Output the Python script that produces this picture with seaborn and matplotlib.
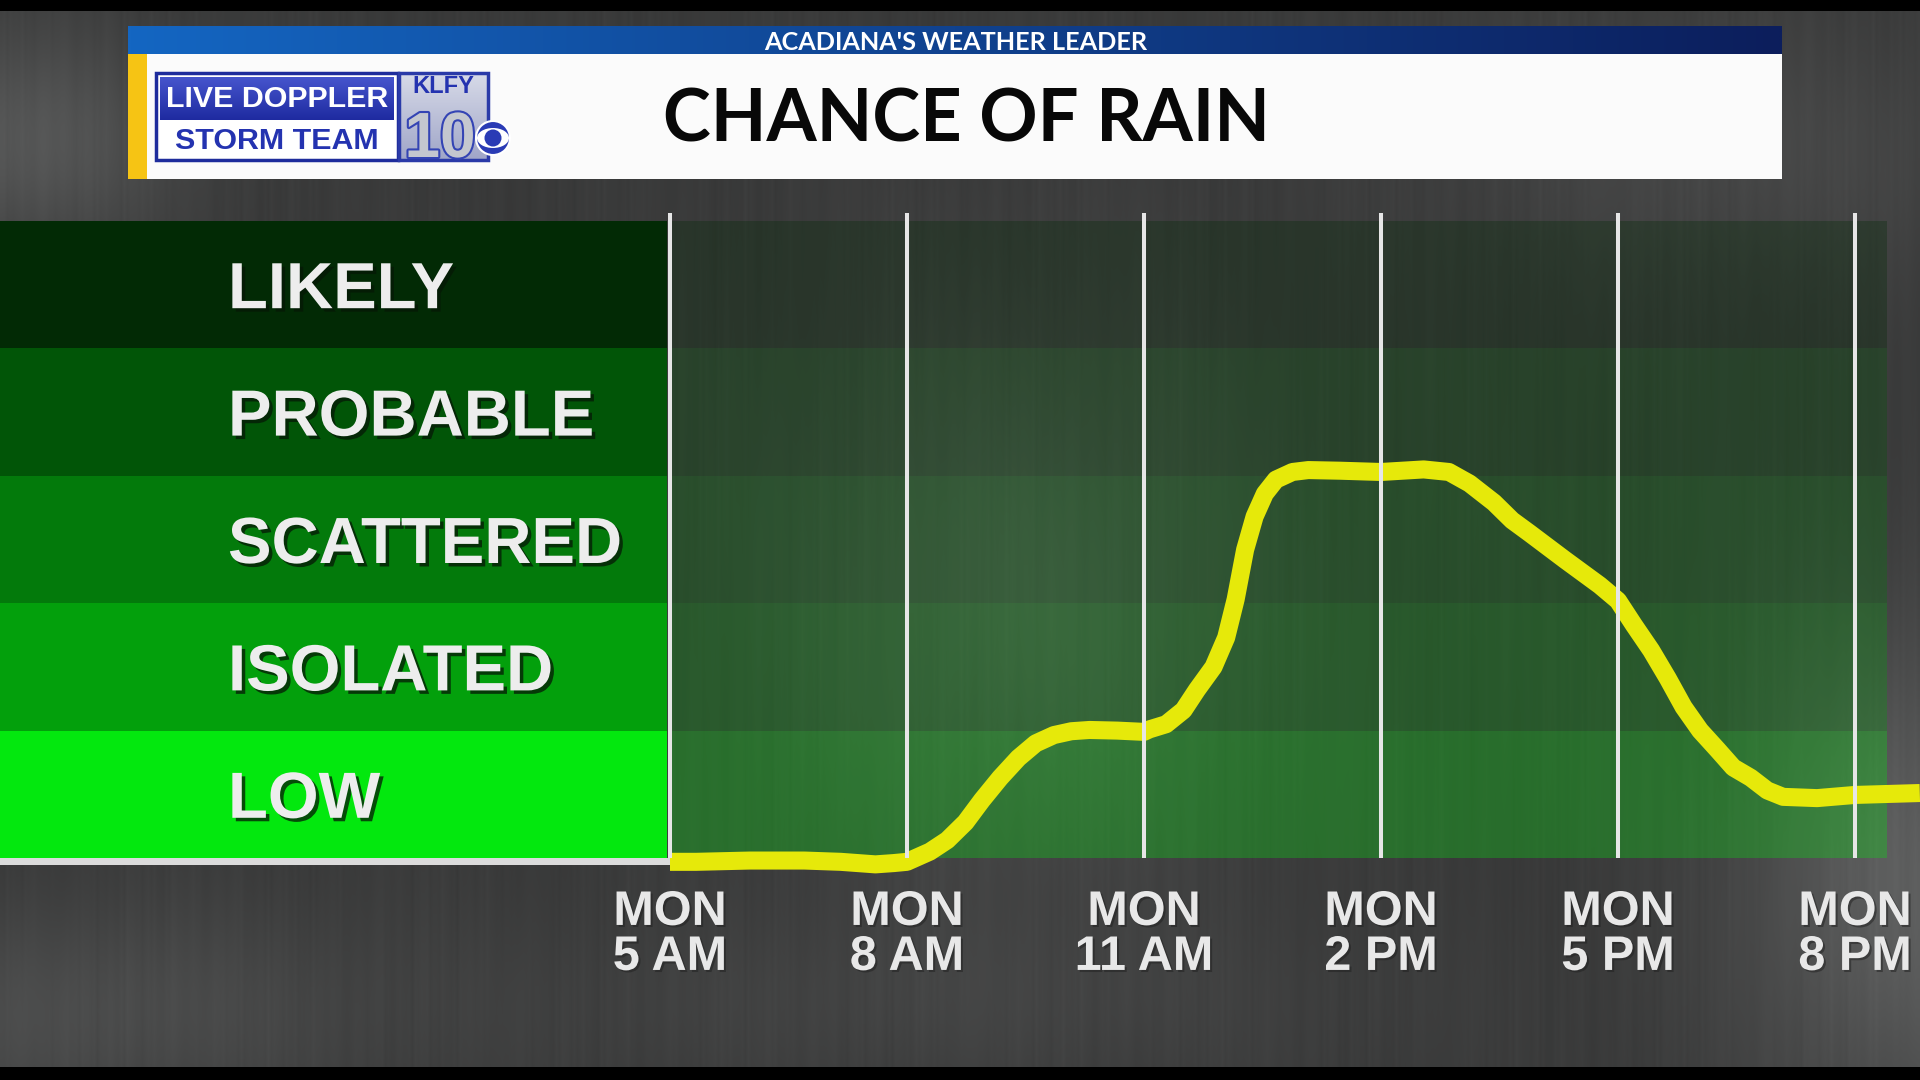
import numpy as np
import matplotlib
matplotlib.use("Agg")
import matplotlib.pyplot as plt
import matplotlib.patheffects as pe
import matplotlib.font_manager as fm
from matplotlib.patches import Rectangle, Circle, Ellipse
import seaborn as sns

# ---------------- data ----------------
levels = ["LOW", "ISOLATED", "SCATTERED", "PROBABLE", "LIKELY"]
level_colors = ["#03e80e", "#03a00c", "#037a0b", "#015507", "#022a05"]
tick_hours = [5, 8, 11, 14, 17, 20]
tick_labels = ["MON\n5 AM", "MON\n8 AM", "MON\n11 AM", "MON\n2 PM", "MON\n5 PM", "MON\n8 PM"]
curve_hours = [5.0, 5.33, 6.01, 6.70, 7.16, 7.60, 7.83, 8.0, 8.29, 8.51, 8.74, 8.95,
               9.18, 9.41, 9.63, 9.86, 10.08, 10.31, 10.66, 11.0, 11.07, 11.28, 11.5,
               11.67, 11.88, 12.04, 12.16, 12.28, 12.40, 12.53, 12.67, 12.88, 13.08,
               13.48, 14.0, 14.54, 14.86, 15.12, 15.43, 15.66, 15.88, 16.33, 16.77,
               17.0, 17.2, 17.42, 17.63, 17.83, 18.04, 18.26, 18.46, 18.68, 18.89,
               19.09, 19.52, 20.0, 20.82]
curve_level = [-0.03, -0.03, -0.02, -0.02, -0.03, -0.05, -0.04, -0.03, 0.05, 0.14, 0.28, 0.455,
               0.63, 0.785, 0.90, 0.965, 0.995, 1.005, 1.0, 0.99, 1.01, 1.05, 1.16,
               1.32, 1.50, 1.73, 2.03, 2.42, 2.68, 2.86, 2.97, 3.03, 3.045,
               3.04, 3.03, 3.05, 3.03, 2.94, 2.79, 2.65, 2.55, 2.34, 2.14,
               2.02, 1.83, 1.63, 1.41, 1.185, 1.0, 0.85, 0.71, 0.63, 0.53,
               0.48, 0.47, 0.495, 0.51]
title_text = "CHANCE OF RAIN"
banner_text = "ACADIANA'S WEATHER LEADER"
logo_top = "LIVE DOPPLER"
logo_bottom = "STORM TEAM"
station = "KLFY"
channel = "10"

# ---------------- setup ----------------
sns.set_theme(style="white")
plt.rcParams["font.family"] = ["Liberation Sans", "DejaVu Sans"]
avail = {f.name for f in fm.fontManager.ttflist}
NARROW = "Liberation Sans Narrow" if "Liberation Sans Narrow" in avail else None
nscale = 1.0 if NARROW else 0.84
NARROW = NARROW or "Liberation Sans"
LATO = "Lato" if "Lato" in avail else "DejaVu Sans"

W, H = 1920, 1080
fig = plt.figure(figsize=(19.2, 10.8), dpi=100)

# canvas axes in pixel coordinates
cv = fig.add_axes([0, 0, 1, 1])
cv.set_xlim(0, W)
cv.set_ylim(H, 0)
cv.axis("off")

yy, xx = np.mgrid[0:H:3, 0:W:3].astype(float)


def blob(cx, cy, sx, sy, a):
    return a * np.exp(-(((xx - cx) / sx) ** 2 + ((yy - cy) / sy) ** 2))


bg = (0.225 + blob(20, 140, 150, 110, 0.11) + blob(1910, 880, 170, 260, 0.14)
      + blob(60, 1010, 300, 110, 0.07) + blob(1020, 600, 220, 280, 0.09)
      + blob(1750, 150, 300, 130, 0.05) + blob(900, 1000, 500, 90, 0.03))
streak = (0.008 * np.sin(xx * 0.83) * np.sin(xx * 0.131 + 1.3) * np.cos(yy * 0.004 + xx * 0.02)
          + 0.006 * np.sin(xx * 2.17 + 0.4) * np.cos(yy * 0.011 + xx * 0.05)
          + 0.005 * np.sin(xx * 0.29 + 2.0) * np.sin(yy * 0.006 + xx * 0.013))
bg = bg + streak
rgb = np.dstack([bg, bg * 1.01, bg * 1.01]).clip(0, 1)
cv.imshow(rgb, extent=(0, W, H, 0), interpolation="bilinear", aspect="auto", zorder=0)

cv.add_patch(Rectangle((0, 0), W, 11, fc="black", ec="none", zorder=1))
cv.add_patch(Rectangle((0, 1067), W, 13, fc="black", ec="none", zorder=1))

# header banner
c1 = np.array([20, 102, 194]) / 255
c2 = np.array([12, 30, 92]) / 255
t = np.linspace(0, 1, 256)[None, :, None]
grad = c1 * (1 - t) + c2 * t
cv.imshow(grad, extent=(128, 1782, 54, 26), aspect="auto", interpolation="bilinear", zorder=2)
cv.add_patch(Rectangle((128, 54), 1654, 125, fc="#fbfbfb", ec="none", zorder=2))
cv.add_patch(Rectangle((128, 54), 19, 125, fc="#f6c414", ec="none", zorder=3))
cv.text(956, 41, banner_text, ha="center", va="center_baseline", color="white",
        fontsize=18.2, fontfamily=LATO, fontweight="bold", zorder=4)
cv.text(663, 142, title_text, ha="left", va="baseline", color="#080808",
        fontsize=52, fontfamily=LATO, fontweight="bold", zorder=4)

# logo
cv.add_patch(Rectangle((156, 73), 242, 87, fc="white", ec="#1e2c9c", lw=2.5, zorder=3))
lg = np.linspace(0, 1, 64)[:, None, None]
blue_grad = (np.array([70, 85, 205]) / 255) * (1 - lg) + (np.array([30, 42, 160]) / 255) * lg
cv.imshow(blue_grad, extent=(160, 394, 120, 77), aspect="auto", interpolation="bilinear", zorder=4)
cv.text(277, 99, logo_top, ha="center", va="center", color="white", fontsize=26 * nscale,
        fontfamily=NARROW, fontweight="bold", zorder=5)
cv.text(277, 141, logo_bottom, ha="center", va="center", color="#2433b0", fontsize=26 * nscale,
        fontfamily=NARROW, fontweight="bold", zorder=5)
kg = np.linspace(0, 1, 64)[:, None, None]
k_grad = (np.array([215, 218, 232]) / 255) * (1 - kg) + (np.array([160, 166, 200]) / 255) * kg
cv.imshow(k_grad, extent=(399, 488, 160, 73), aspect="auto", interpolation="bilinear", zorder=3)
cv.add_patch(Rectangle((399, 73), 89, 87, fc="none", ec="#2a3aa8", lw=2.5, zorder=4))
cv.text(443, 93, station, ha="center", va="baseline", color="#2433b0", fontsize=17,
        fontfamily="Liberation Sans", fontweight="bold", zorder=5)
cv.text(440, 157, channel, ha="center", va="baseline", color="#c4c7cf", fontsize=46,
        fontfamily="Liberation Sans", fontweight="bold", zorder=5,
        path_effects=[pe.withStroke(linewidth=3, foreground="#3444b4")])
cv.add_patch(Circle((493, 138), 17, fc="#2a3bb5", ec="white", lw=1.5, zorder=6))
cv.add_patch(Ellipse((493, 138), 32, 20, fc="white", ec="none", zorder=7))
cv.add_patch(Circle((493, 138), 8.5, fc="#2a3bb5", ec="none", zorder=8))

# white baseline under left panel
cv.add_patch(Rectangle((0, 858), 670, 7, fc="#dcdcdc", ec="none", zorder=2))

# ---------------- left panel (category key) ----------------
ax_l = fig.add_axes([0, (H - 858) / H, 667 / W, 637 / H])
ax_l.barh(np.arange(len(levels)) + 0.5, 1, height=1.0, color=level_colors, lw=0)
ax_l.set_xlim(0, 1)
ax_l.set_ylim(0, 5)
ax_l.axis("off")

# ---------------- main chart ----------------
ax = fig.add_axes([670 / W, (H - 858) / H, (W - 670) / W, 637 / H])
ax.patch.set_alpha(0)
x_right = 5 + (W - 670) / 79.0
ax.set_xlim(5, x_right)
ax.set_ylim(0, 5)
for i, c in enumerate(level_colors):
    ax.axhspan(i, i + 1, xmin=0, xmax=(1887 - 670) / (W - 670), color=c, alpha=0.3, lw=0, zorder=1)

sns.lineplot(x=curve_hours, y=curve_level, ax=ax, color="#e6e90a", lw=13, sort=False,
             estimator=None, zorder=3)
line = ax.lines[-1]
line.set_clip_on(False)
line.set_solid_joinstyle("round")
line.set_solid_capstyle("butt")

ax.vlines(tick_hours, 0, 5 + 8 / 127.4, colors="#e6e6e6", lw=2.9, zorder=4, clip_on=False)

ax.set_xticks(tick_hours)
ax.set_xticklabels(tick_labels, fontsize=35, fontweight="bold", color="#e8e8e8",
                   linespacing=1.0, fontfamily="Liberation Sans")
ax.tick_params(axis="x", length=0, pad=23)
ax.set_yticks(np.arange(len(levels)) + 0.5)
ax.set_yticklabels(levels, fontsize=47, fontweight="bold", color="#ededed", ha="left",
                   fontfamily="Liberation Sans")
ax.tick_params(axis="y", length=0, pad=(670 - 228) * 0.72)
for lbl in ax.get_yticklabels():
    lbl.set_path_effects([pe.SimplePatchShadow(offset=(2.5, -2.5), shadow_rgbFace="#061806", alpha=0.75),
                          pe.Normal()])
for lbl in ax.get_xticklabels():
    lbl.set_path_effects([pe.SimplePatchShadow(offset=(1.5, -1.5), shadow_rgbFace="#202020", alpha=0.5),
                          pe.Normal()])
ax.set_xlabel("")
ax.set_ylabel("")
for s in ax.spines.values():
    s.set_visible(False)
ax.grid(False)

cv.set_xlim(0, W)
cv.set_ylim(H, 0)
fig.savefig("out.png", dpi=100)
